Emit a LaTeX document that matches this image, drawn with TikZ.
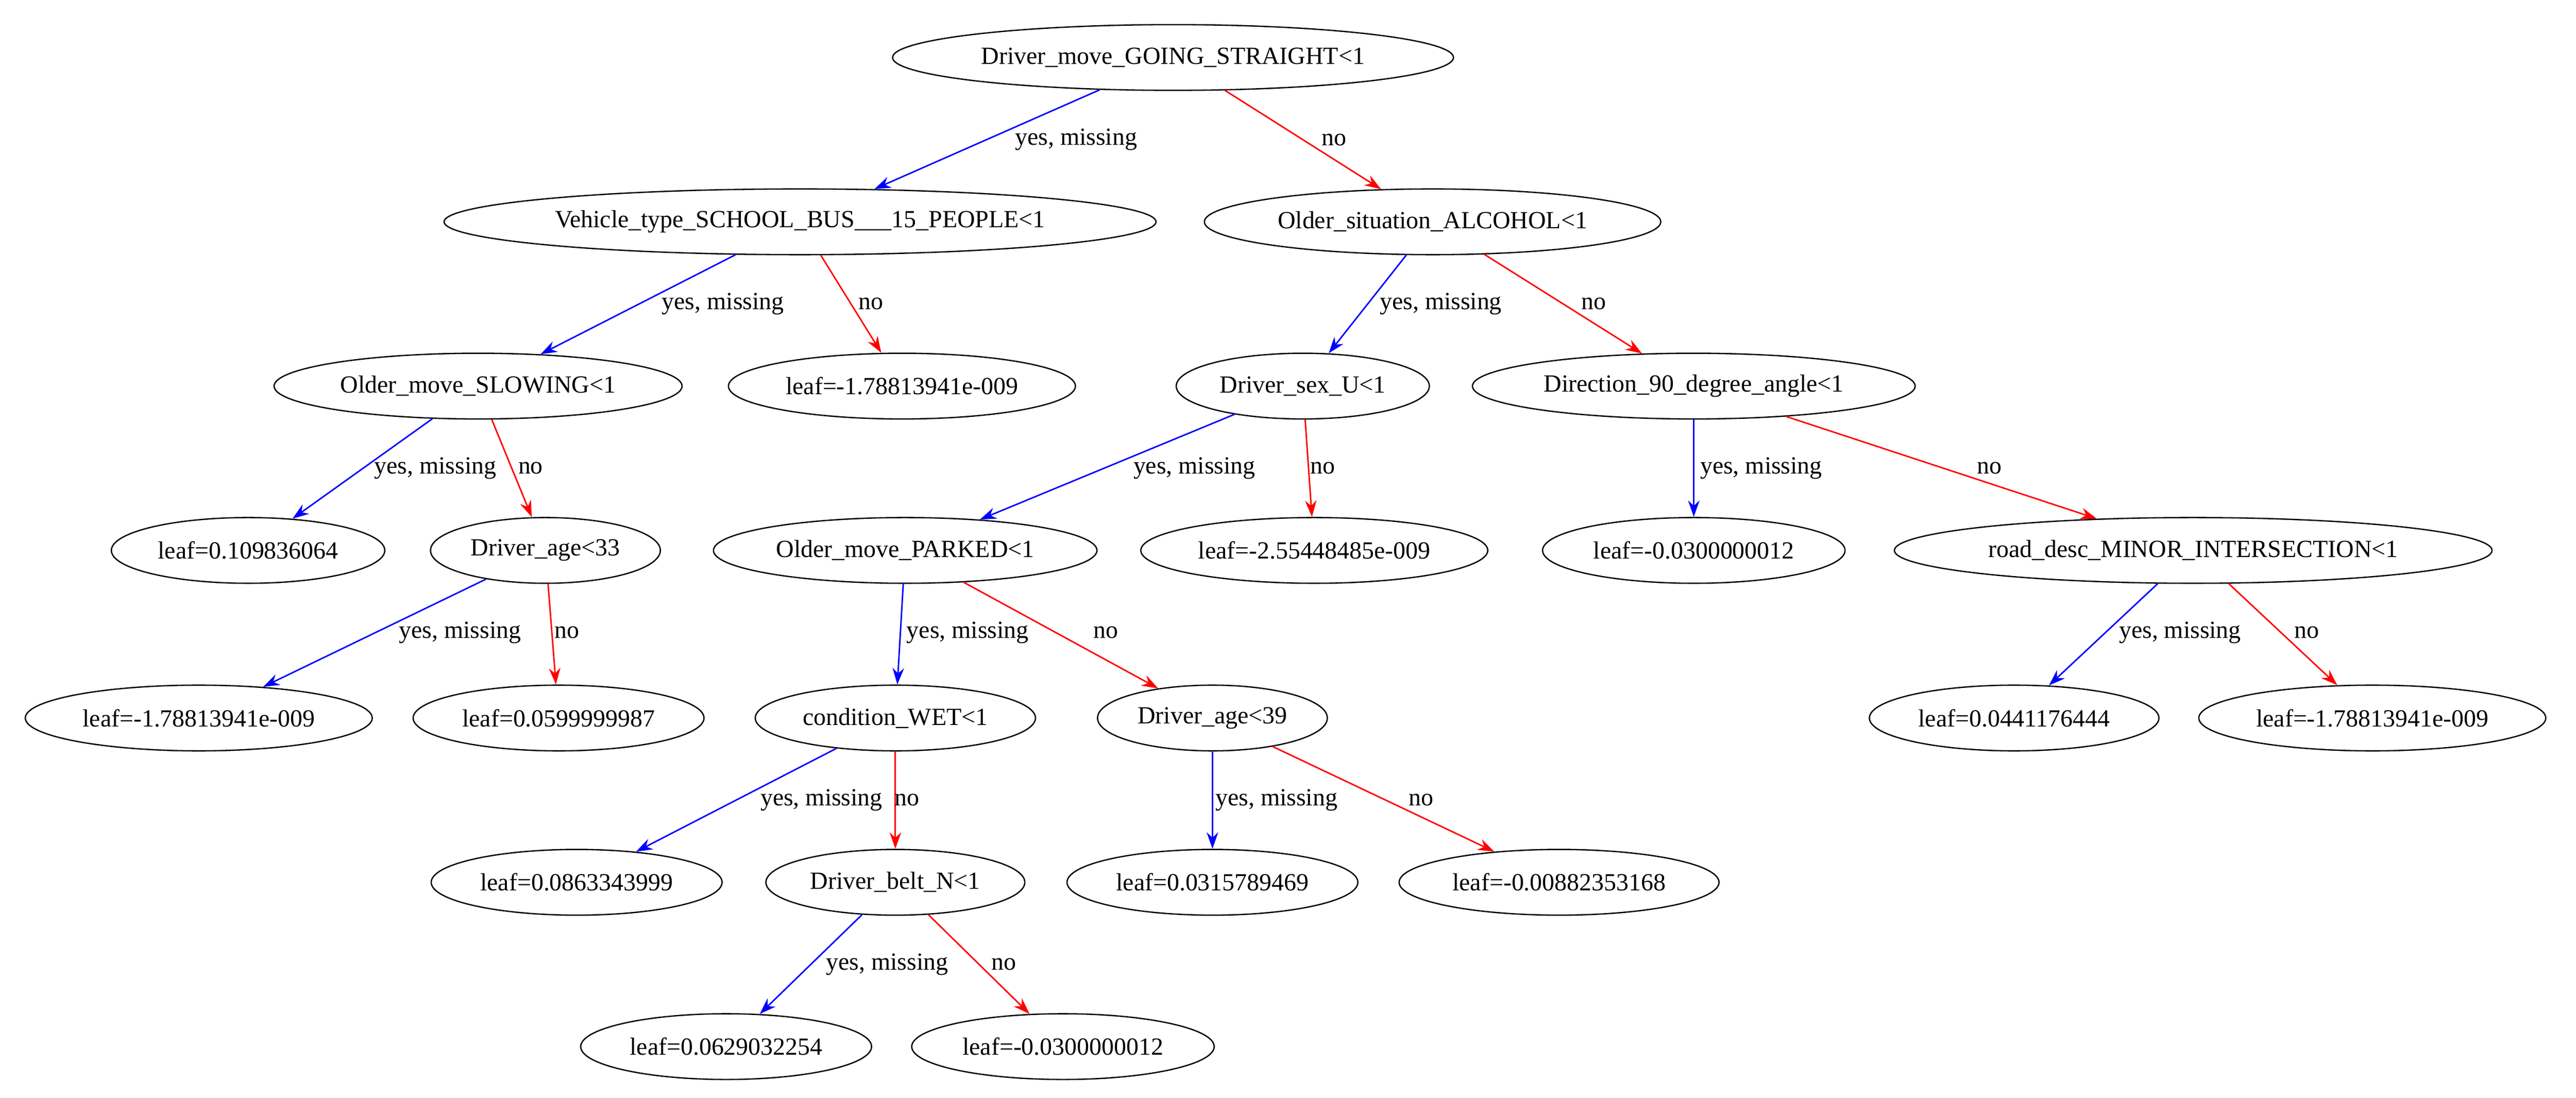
\documentclass[tikz,border=0pt]{standalone}
\usepackage{fontspec}
\setmainfont{Liberation Serif}
\usetikzlibrary{shapes.geometric,arrows.meta}
\begin{document}
\begin{tikzpicture}[x=1pt,y=-1pt,
  n/.style={ellipse,draw,line width=0.8pt,inner xsep=4pt,inner ysep=0pt,minimum height=40pt,font=\fontsize{15}{17}\selectfont},
  yes/.style={draw=blue,line width=0.9pt,-{Stealth[length=10pt,width=7pt]}},
  no/.style={draw=red,line width=0.9pt,-{Stealth[length=10pt,width=7pt]}},
  lb/.style={font=\fontsize{15}{17}\selectfont,inner sep=1pt}]
\useasboundingbox (0,0) rectangle (1568,668);
\node[n] (r) at (714,35) {Driver\_move\_GOING\_STRAIGHT<1};
\node[n] (vt) at (487,135) {Vehicle\_type\_SCHOOL\_BUS\_\_\_15\_PEOPLE<1};
\node[n] (os) at (872,135) {Older\_situation\_ALCOHOL<1};
\node[n] (sl) at (291,235) {Older\_move\_SLOWING<1};
\node[n] (l1) at (549,235) {leaf=-1.78813941e-009};
\node[n] (ds) at (793,235) {Driver\_sex\_U<1};
\node[n] (dn) at (1031,235) {Direction\_90\_degree\_angle<1};
\node[n] (l2) at (151,335) {leaf=0.109836064};
\node[n] (a33) at (332,335) {Driver\_age<33};
\node[n] (pk) at (551,335) {Older\_move\_PARKED<1};
\node[n] (l3) at (800,335) {leaf=-2.55448485e-009};
\node[n] (l4) at (1031,335) {leaf=-0.0300000012};
\node[n] (rd) at (1335,335) {road\_desc\_MINOR\_INTERSECTION<1};
\node[n] (l5) at (121,437) {leaf=-1.78813941e-009};
\node[n] (l6) at (340,437) {leaf=0.0599999987};
\node[n] (wt) at (545,437) {condition\_WET<1};
\node[n] (a39) at (738,437) {Driver\_age<39};
\node[n] (l7) at (1226,437) {leaf=0.0441176444};
\node[n] (l8) at (1444,437) {leaf=-1.78813941e-009};
\node[n] (l9) at (351,537) {leaf=0.0863343999};
\node[n] (bt) at (545,537) {Driver\_belt\_N<1};
\node[n] (l10) at (738,537) {leaf=0.0315789469};
\node[n] (l11) at (949,537) {leaf=-0.00882353168};
\node[n] (l12) at (442,637) {leaf=0.0629032254};
\node[n] (l13) at (647,637) {leaf=-0.0300000012};
\draw[yes] (r) -- (vt); \draw[no] (r) -- (os);
\draw[yes] (vt) -- (sl); \draw[no] (vt) -- (l1);
\draw[yes] (os) -- (ds); \draw[no] (os) -- (dn);
\draw[yes] (sl) -- (l2); \draw[no] (sl) -- (a33);
\draw[yes] (ds) -- (pk); \draw[no] (ds) -- (l3);
\draw[yes] (dn) -- (l4); \draw[no] (dn) -- (rd);
\draw[yes] (a33) -- (l5); \draw[no] (a33) -- (l6);
\draw[yes] (pk) -- (wt); \draw[no] (pk) -- (a39);
\draw[yes] (rd) -- (l7); \draw[no] (rd) -- (l8);
\draw[yes] (wt) -- (l9); \draw[no] (wt) -- (bt);
\draw[yes] (a39) -- (l10); \draw[no] (a39) -- (l11);
\draw[yes] (bt) -- (l12); \draw[no] (bt) -- (l13);
\node[lb] at (655,85) {yes, missing}; \node[lb] at (812,85) {no};
\node[lb] at (440,185) {yes, missing}; \node[lb] at (530,185) {no};
\node[lb] at (877,185) {yes, missing}; \node[lb] at (970,185) {no};
\node[lb] at (265,285) {yes, missing}; \node[lb] at (323,285) {no};
\node[lb] at (727,285) {yes, missing}; \node[lb] at (805,285) {no};
\node[lb] at (1072,285) {yes, missing}; \node[lb] at (1211,285) {no};
\node[lb] at (280,385) {yes, missing}; \node[lb] at (345,385) {no};
\node[lb] at (589,385) {yes, missing}; \node[lb] at (673,385) {no};
\node[lb] at (1327,385) {yes, missing}; \node[lb] at (1404,385) {no};
\node[lb] at (500,487) {yes, missing}; \node[lb] at (552,487) {no};
\node[lb] at (777,487) {yes, missing}; \node[lb] at (865,487) {no};
\node[lb] at (540,587) {yes, missing}; \node[lb] at (611,587) {no};
\end{tikzpicture}
\end{document}
